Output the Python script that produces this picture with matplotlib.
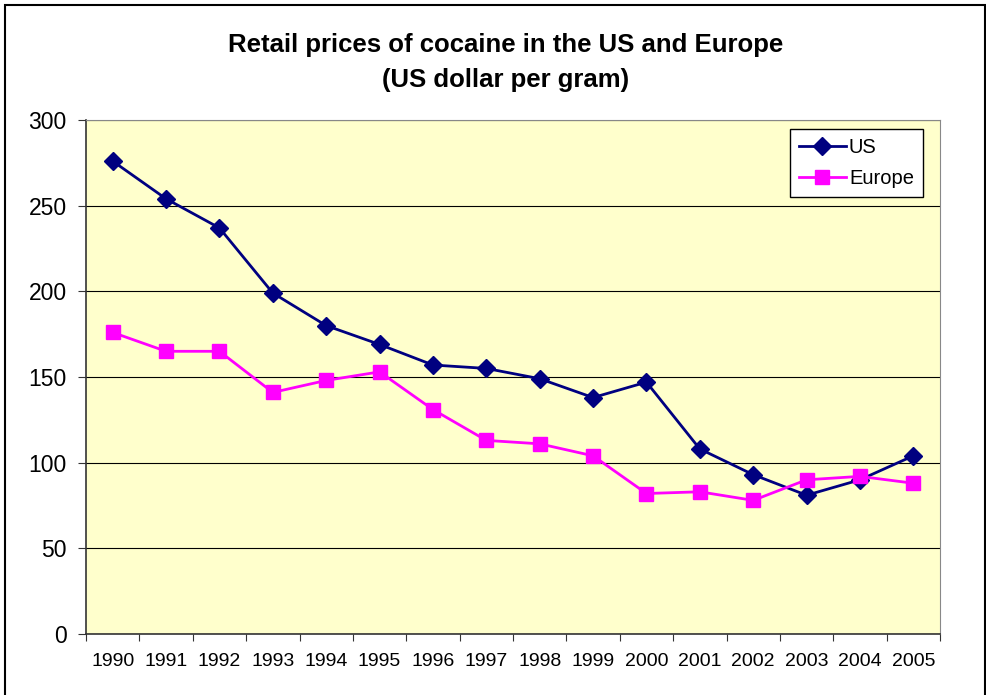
import matplotlib
matplotlib.use("Agg")
import matplotlib.pyplot as plt
from matplotlib.patches import Rectangle

years = [str(y) for y in range(1990, 2006)]
us = [276, 254, 237, 199, 180, 169, 157, 155, 149, 138, 147, 108, 93, 81, 90, 104]
europe = [176, 165, 165, 141, 148, 153, 131, 113, 111, 104, 82, 83, 78, 90, 92, 88]
yticks = [0, 50, 100, 150, 200, 250, 300]

plt.rcParams['font.family'] = ['Liberation Sans', 'DejaVu Sans']

fig = plt.figure(figsize=(9.87, 6.95), dpi=100)
fig.patches.append(Rectangle((5/987, -0.01), 980/987, 1 - 5/695 + 0.01, transform=fig.transFigure,
                             fill=False, edgecolor='black', linewidth=1.5))
ax = fig.add_axes([86/987, 1 - 634/695, (940 - 86)/987, (634 - 120)/695])
ax.set_facecolor('#FFFFCC')

x = list(range(len(years)))
ax.plot(x, us, color='#000080', marker='D', markersize=9.5, linewidth=2, label='US', zorder=3)
ax.plot(x, europe, color='#FF00FF', marker='s', markersize=10, linewidth=2, label='Europe', zorder=3)

ax.set_xlim(-0.5, len(years) - 0.5)
ax.set_ylim(0, 300)
ax.set_yticks(yticks)
ax.set_yticklabels([str(v) for v in yticks], fontsize=16.5)
ax.set_xticks([i - 0.5 for i in range(len(years) + 1)])
ax.set_xticklabels([])
ax.set_xticks(x, minor=True)
ax.set_xticklabels(years, minor=True, fontsize=14)
ax.tick_params(axis='x', which='minor', length=0, pad=14)
ax.tick_params(axis='x', which='major', length=5, direction='out', color='#333333')
ax.tick_params(axis='y', length=6, direction='out', color='#333333', pad=8)
ax.grid(axis='y', color='black', linewidth=0.8)
ax.set_axisbelow(True)
for s in ['top', 'right']:
    ax.spines[s].set_color('#888888')
for s in ['left', 'bottom']:
    ax.spines[s].set_color('#333333')
    ax.spines[s].set_linewidth(1.2)

leg = ax.legend(loc='upper right', bbox_to_anchor=(923/854 - 86/854, 1 - 9/514), fontsize=14.5,
                frameon=True, fancybox=False, edgecolor='black', framealpha=1, borderpad=0.45,
                handlelength=2.35, labelspacing=0.6, handletextpad=0.15, borderaxespad=0)
leg.get_frame().set_linewidth(1.0)

fig.text(506/987, 1 - 45/695, 'Retail prices of cocaine in the US and Europe', ha='center', va='center',
         fontsize=18.5, fontweight='bold')
fig.text(506/987, 1 - 80/695, '(US dollar per gram)', ha='center', va='center',
         fontsize=18.5, fontweight='bold')

fig.savefig('out.png', dpi=100)
